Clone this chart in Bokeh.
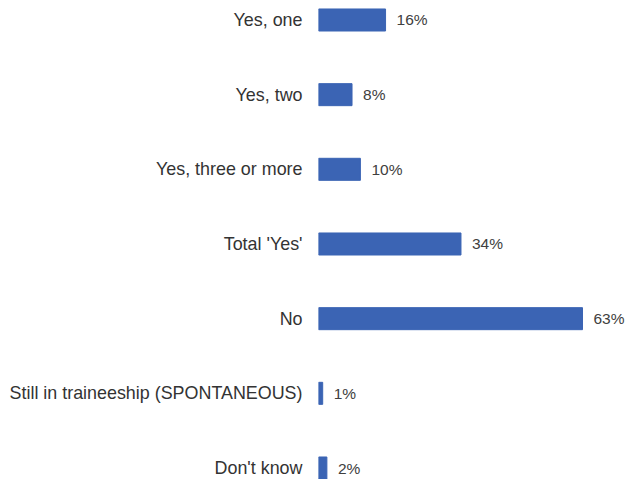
from bokeh.plotting import figure
from bokeh.models import ColumnDataSource, Range1d, FixedTicker
from bokeh.embed import file_html
from bokeh.resources import INLINE
from bokeh.core.properties import value

categories = ["Yes, one", "Yes, two", "Yes, three or more", "Total 'Yes'", "No",
              "Still in traineeship (SPONTANEOUS)", "Don't know"]
values = [16, 8, 10, 34, 63, 1, 2]
labels = ["16%", "8%", "10%", "34%", "63%", "1%", "2%"]

n = len(categories)
ypos = [n - 1 - i for i in range(n)]

src = ColumnDataSource(dict(y=ypos, v=values, lab=labels, cat=categories))

p = figure(width=626, height=479, output_backend="svg", toolbar_location=None,
           x_range=Range1d(0, 73.5), y_range=Range1d(-0.154, 6.261),
           min_border_left=318, min_border_right=0, min_border_top=0, min_border_bottom=0)

p.hbar(y="y", right="v", left=0, height=0.295, source=src, color="#3B64B4")
p.text(x="v", y="y", text="lab", source=src, x_offset=11, text_baseline="middle",
       text_font=value("Liberation Sans"), text_font_size="15.5px", text_color="#404040")

p.xaxis.visible = False
ax = p.yaxis[0]
ax.ticker = FixedTicker(ticks=ypos)
ax.major_label_overrides = {y: c for y, c in zip(ypos, categories)}
ax.axis_line_color = None
ax.major_tick_line_color = None
ax.minor_tick_line_color = None
ax.major_tick_out = 0
ax.major_tick_in = 0
ax.major_label_standoff = 16
ax.major_label_text_font = "Liberation Sans"
ax.major_label_text_font_size = "17.9px"
ax.major_label_text_color = "#333333"
p.xgrid.visible = False
p.ygrid.visible = False
p.outline_line_color = None
p.background_fill_color = "white"
p.border_fill_color = "white"

open("out.html", "w").write(file_html(p, INLINE))
